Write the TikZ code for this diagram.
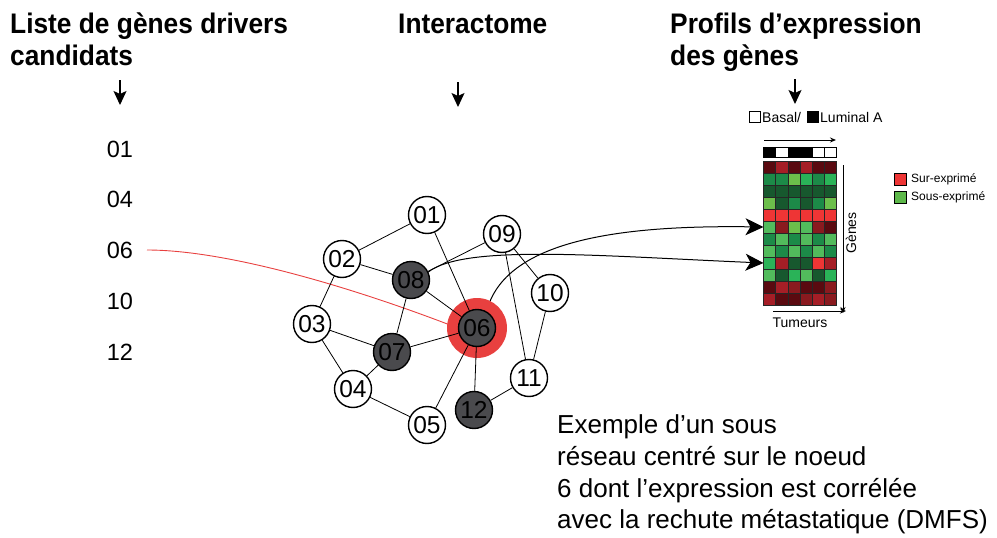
\documentclass[tikz,border=0pt]{standalone}
\usepackage{fontspec}
\setmainfont{Liberation Sans}
\newfontfamily\hdrfont[FakeStretch=0.93]{Liberation Sans}
\usetikzlibrary{arrows.meta}
\pgfdeclarelayer{bg}
\pgfsetlayers{bg,main}
\definecolor{ringred}{HTML}{E8403F}
\definecolor{nodegray}{HTML}{4A4A4D}
\definecolor{hmDR}{HTML}{5A0A10}
\definecolor{hmR}{HTML}{A51E26}
\definecolor{hmMR}{HTML}{8A1A1F}
\definecolor{hmBR}{HTML}{EE3535}
\definecolor{hmDG}{HTML}{17582E}
\definecolor{hmG}{HTML}{1C8A48}
\definecolor{hmLG}{HTML}{6CBF4B}
\definecolor{hmBG}{HTML}{2AB358}
\definecolor{hmMG}{HTML}{52BB5C}
\definecolor{legred}{HTML}{EE3535}
\definecolor{leggreen}{HTML}{5DB84A}
\tikzset{
  hdr/.style={anchor=base west, inner sep=0, font=\hdrfont\bfseries\fontsize{28.3}{33}\selectfont},
  lst/.style={anchor=base, inner sep=0, font=\fontsize{23.5}{28}\selectfont},
  para/.style={anchor=base west, inner sep=0, font=\fontsize{26}{31}\selectfont},
  gene/.style={circle, draw, line width=1.4, minimum size=37, inner sep=0, fill=white, font=\fontsize{24.5}{28}\selectfont},
  drv/.style={gene, fill=nodegray},
  edge/.style={line width=0.8},
  dnarrow/.style={-{Stealth[length=14,width=13,inset=3]}, line width=1.4},
  hmarrow/.style={-{Stealth[length=18,width=17,inset=5]}, line width=1},
  axarrow/.style={-{Stealth[length=6,width=5]}, line width=1},
  small/.style={inner sep=0, font=\fontsize{14}{16}\selectfont},
  tiny/.style={inner sep=0, anchor=west, font=\fontsize{12}{14}\selectfont},
  cell/.style={draw=black!85, line width=0.8},
}
\begin{document}
\begin{tikzpicture}[x=1pt,y=-1pt]
\useasboundingbox (0,0) rectangle (997,538);
% headers
\node[hdr] (hA1) at (10,33) {Liste de gènes drivers};
\node[hdr] (hA2) at (10,65) {candidats};
\node[hdr] (hB1) at (398,33) {Interactome};
\node[hdr] (hC1) at (670,33) {Profils d’expression};
\node[hdr] (hC2) at (670,65) {des gènes};
\coordinate (aA1) at (120,80); \coordinate (aA2) at (120,105);
\coordinate (aB1) at (458,82); \coordinate (aB2) at (458,107);
\coordinate (aC1) at (795,79); \coordinate (aC2) at (795,104);
\draw[dnarrow] (aA1) -- (aA2);
\draw[dnarrow] (aB1) -- (aB2);
\draw[dnarrow] (aC1) -- (aC2);
% list
\node[lst] (l01) at (120,157) {01};
\node[lst] (l04) at (120,207) {04};
\node[lst] (l06) at (120,258) {06};
\node[lst] (l10) at (120,309) {10};
\node[lst] (l12) at (120,360) {12};
% network
\fill[ringred] (477,328) circle (30);
\node[gene] (g01) at (427,215) {01};
\node[gene] (g09) at (502,234) {09};
\node[gene] (g02) at (342,259) {02};
\node[drv]  (g08) at (411,280) {08};
\node[gene] (g10) at (550,293) {10};
\node[gene] (g03) at (312,324) {03};
\node[drv]  (g06) at (477,328) {06};
\node[drv]  (g07) at (392,352) {07};
\node[gene] (g11) at (529,378) {11};
\node[gene] (g04) at (353,389) {04};
\node[gene] (g05) at (427,425) {05};
\node[drv]  (g12) at (474,410) {12};
\foreach \a/\b in {01/02,01/06,02/08,02/03,03/07,03/04,04/07,04/05,05/06,06/07,06/08,06/12,08/07,08/09,09/10,09/11,10/11,11/12}
  \draw[edge] (g\a) -- (g\b);
% heatmap
\coordinate (hmA) at (763.5,227);
\coordinate (hmB) at (763.5,263);
\begin{pgfonlayer}{bg}
\draw[ringred, line width=0.9] (147,250) .. controls (230,250) and (360,290) .. (g06.west);
\draw[hmarrow] (g06.60) .. controls (505,240) and (620,225) .. (hmA);
\draw[hmarrow] (g08.25) .. controls (465,244) and (600,256) .. (hmB);
\end{pgfonlayer}
\foreach \row [count=\r] in {
 {DR,R,DR,R,DR,DR},
 {G,G,LG,BG,G,BG},
 {DG,DG,DG,DG,DG,DG},
 {LG,DG,G,DG,G,LG},
 {BR,BR,BR,BR,BR,BR},
 {MG,MR,LG,MG,MR,DR},
 {G,MG,G,MG,G,MG},
 {MG,G,MG,G,MG,G},
 {BG,R,DG,DG,BR,R},
 {MG,DG,BG,MG,DG,BG},
 {DR,R,MR,DR,DR,MR},
 {R,DR,DR,MR,R,MR}} {
  \foreach \c [count=\k] in \row {
    \draw[cell, fill=hm\c] ({763.5+(\k-1)*12.2},{161+(\r-1)*12}) rectangle ++(12.2,12);
  }
}
\foreach \c [count=\k] in {black,white,black,black,white,white}
  \draw[black, line width=0.8, fill=\c] ({763.5+(\k-1)*12.2},147.3) rectangle ++(12.2,9.7);
% axes
\coordinate (tx1) at (764,140); \coordinate (tx2) at (836,140);
\coordinate (vy1) at (843,165); \coordinate (vy2) at (843,313);
\coordinate (bx1) at (773,311); \coordinate (bx2) at (846,311);
\draw[axarrow] (tx1) -- (tx2);
\draw[axarrow] (vy1) -- (vy2);
\draw[axarrow] (bx1) -- (bx2);
\node[small, rotate=90] (genes) at (851,233) {Gènes};
\node[small] (tum) at (800,323) {Tumeurs};
% subtype legend
\draw[line width=0.8, fill=white] (749,111.5) rectangle (760,122.5);
\node[small, anchor=west] (basal) at (762,117) {Basal/};
\draw[line width=0.8, fill=black] (807,111.5) rectangle (818,122.5);
\node[small, anchor=west] (lumA) at (820,117) {Luminal A};
% expression legend
\draw[line width=0.8, fill=legred] (894,173) rectangle (906,185);
\node[tiny] (sur) at (911,179) {Sur-exprimé};
\draw[line width=0.8, fill=leggreen] (894,191) rectangle (906,203);
\node[tiny] (sous) at (911,197) {Sous-exprimé};
% paragraph
\node[para] (p1) at (557,433) {Exemple d’un sous};
\node[para] (p2) at (557,465) {réseau centré sur le noeud};
\node[para] (p3) at (557,497) {6 dont l’expression est corrélée};
\node[para] (p4) at (557,528) {avec la rechute métastatique (DMFS)};
\end{tikzpicture}
\end{document}
